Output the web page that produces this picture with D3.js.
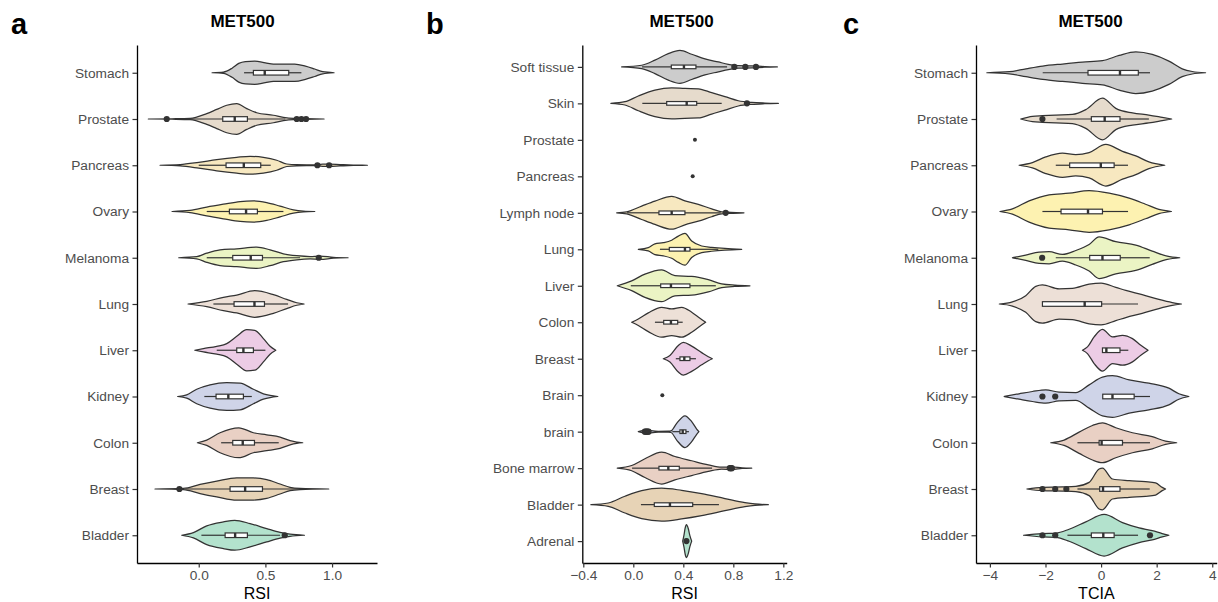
<!DOCTYPE html>
<html>
<head>
<meta charset="utf-8">
<script src="https://cdn.jsdelivr.net/npm/d3@7"></script>
<style>
  body { margin: 0; background: #fff; }
  svg text { font-family: "Liberation Sans", Arial, Helvetica, sans-serif; }
</style>
</head>
<body>
<div id="container"></div>
<script>
/* DATA — panel a (RSI), categories top to bottom */
const catsA = ["Stomach","Prostate","Pancreas","Ovary","Melanoma","Lung","Liver","Kidney","Colon","Breast","Bladder"];
const q1A  = [0.41, 0.18, 0.205, 0.23, 0.255, 0.265, 0.285, 0.13, 0.255, 0.235, 0.198];
const medA = [0.495, 0.27, 0.338, 0.355, 0.39, 0.418, 0.335, 0.222, 0.33, 0.348, 0.273];
const q3A  = [0.675, 0.365, 0.465, 0.44, 0.478, 0.493, 0.41, 0.335, 0.418, 0.478, 0.365];
const loA  = [0.34, -0.06, 0.0, 0.06, 0.06, 0.11, 0.135, 0.042, 0.168, -0.1, 0.02];
const hiA  = [0.77, 0.65, 0.54, 0.635, 0.76, 0.67, 0.5, 0.398, 0.6, 0.8, 0.61];
const outA = [[], [-0.24, 0.735, 0.77, 0.805], [0.89, 0.978], [], [0.9], [], [], [], [], [-0.145], [0.645]];
// violin outlines: [value, relative width]
const densA = [
  [[0.10,0],[0.185,0.03],[0.25,0.22],[0.3,0.45],[0.35,0.54],[0.42,0.56],[0.5,0.48],[0.56,0.42],[0.65,0.42],[0.72,0.42],[0.8,0.32],[0.87,0.18],[0.93,0.05],[1.015,0]],
  [[-0.378,0],[-0.2,0.01],[-0.065,0.03],[0.06,0.26],[0.135,0.46],[0.21,0.66],[0.285,0.74],[0.36,0.5],[0.435,0.3],[0.56,0.18],[0.635,0.08],[0.71,0.03],[0.8,0.02],[0.94,0]],
  [[-0.29,0],[-0.14,0.03],[0,0.14],[0.135,0.27],[0.285,0.38],[0.385,0.43],[0.485,0.38],[0.585,0.24],[0.66,0.06],[0.735,0.025],[0.86,0.02],[0.93,0.05],[0.98,0.05],[1.06,0.03],[1.16,0.01],[1.265,0]],
  [[-0.2,0],[-0.065,0.05],[0.06,0.21],[0.185,0.35],[0.31,0.48],[0.41,0.51],[0.51,0.43],[0.61,0.26],[0.71,0.08],[0.785,0.02],[0.87,0]],
  [[-0.15,0],[-0.015,0.05],[0.06,0.22],[0.16,0.38],[0.285,0.43],[0.435,0.51],[0.535,0.38],[0.635,0.19],[0.735,0.1],[0.835,0.06],[0.91,0.08],[1.01,0.02],[1.12,0]],
  [[-0.08,0],[0.06,0.13],[0.185,0.32],[0.285,0.43],[0.42,0.64],[0.56,0.45],[0.66,0.22],[0.735,0.06],[0.79,0]],
  [[-0.03,0],[0.035,0.08],[0.135,0.19],[0.21,0.32],[0.285,0.67],[0.36,0.99],[0.42,0.96],[0.485,0.56],[0.535,0.19],[0.578,0]],
  [[-0.158,0],[-0.09,0.08],[-0.015,0.35],[0.085,0.56],[0.21,0.67],[0.31,0.64],[0.41,0.35],[0.485,0.13],[0.535,0.05],[0.593,0]],
  [[-0.01,0],[0.06,0.13],[0.16,0.48],[0.3,0.72],[0.41,0.48],[0.51,0.38],[0.61,0.27],[0.685,0.1],[0.735,0.03],[0.78,0]],
  [[-0.328,0],[-0.115,0.03],[0.01,0.22],[0.135,0.38],[0.285,0.54],[0.41,0.53],[0.51,0.45],[0.61,0.24],[0.685,0.08],[0.76,0.03],[0.975,0]],
  [[-0.128,0],[-0.04,0.13],[0.06,0.45],[0.185,0.64],[0.27,0.72],[0.385,0.56],[0.51,0.32],[0.61,0.14],[0.685,0.05],[0.793,0]]
];

/* DATA — panel b (RSI) */
const catsB = ["Soft tissue","Skin","Prostate","Pancreas","Lymph node","Lung","Liver","Colon","Breast","Brain","brain","Bone marrow","Bladder","Adrenal"];
const q1B  = [0.304, 0.267, null, null, 0.205, 0.288, 0.219, 0.243, 0.373, null, 0.373, 0.205, 0.168, 0.418];
const medB = [0.405, 0.427, 0.493, 0.475, 0.307, 0.413, 0.301, 0.301, 0.408, 0.232, 0.395, 0.28, 0.293, 0.425];
const q3B  = [0.501, 0.507, null, null, 0.413, 0.453, 0.453, 0.355, 0.453, null, 0.421, 0.368, 0.475, 0.432];
const loB  = [0.07, 0.072, null, null, -0.05, 0.213, -0.02, 0.173, 0.34, null, 0.312, -0.01, 0.061, 0.41];
const hiB  = [0.75, 0.707, null, null, 0.7, 0.68, 0.66, 0.395, 0.501, null, 0.445, 0.63, 0.685, 0.44];
const outB = [[0.808, 0.896, 0.981], [0.909], [], [], [0.739], [], [], [], [], [], [0.092, 0.1, 0.107, 0.115, 0.122], [0.772, 0.78, 0.788], [], [0.425]];
const densB = [
  [[-0.093,0],[0.067,0.1],[0.173,0.41],[0.28,0.81],[0.373,1.0],[0.467,0.77],[0.573,0.49],[0.68,0.3],[0.76,0.16],[0.84,0.08],[0.947,0.06],[1.053,0.02],[1.152,0]],
  [[-0.179,0],[-0.067,0.1],[0.04,0.45],[0.173,0.81],[0.307,0.95],[0.413,0.91],[0.52,0.89],[0.627,0.65],[0.733,0.41],[0.84,0.16],[0.947,0.06],[1.053,0.02],[1.16,0]],
  null,
  null,
  [[-0.133,0],[-0.053,0.06],[0.067,0.41],[0.173,0.71],[0.307,1.0],[0.413,0.73],[0.52,0.51],[0.627,0.24],[0.707,0.06],[0.78,0.03],[0.885,0]],
  [[0.04,0],[0.12,0.1],[0.173,0.33],[0.24,0.4],[0.307,0.55],[0.36,0.8],[0.413,0.97],[0.467,0.5],[0.547,0.2],[0.627,0.12],[0.733,0.05],[0.867,0]],
  [[-0.128,0],[-0.013,0.3],[0.093,0.71],[0.227,0.97],[0.333,0.61],[0.467,0.57],[0.6,0.37],[0.707,0.12],[0.813,0.04],[0.933,0]],
  [[-0.013,0],[0.04,0.2],[0.12,0.57],[0.227,0.91],[0.307,0.81],[0.387,0.91],[0.467,0.61],[0.533,0.24],[0.579,0]],
  [[0.24,0],[0.293,0.2],[0.36,0.81],[0.4,1.0],[0.467,0.77],[0.547,0.37],[0.6,0.12],[0.632,0]],
  null,
  [[0.04,0],[0.08,0.08],[0.107,0.12],[0.14,0.07],[0.2,0.02],[0.28,0.03],[0.301,0.05],[0.347,0.51],[0.413,0.97],[0.467,0.61],[0.507,0.16],[0.525,0]],
  [[-0.128,0],[-0.013,0.16],[0.093,0.57],[0.227,0.97],[0.333,0.71],[0.467,0.45],[0.6,0.2],[0.707,0.06],[0.787,0.08],[0.87,0.02],[0.947,0]],
  [[-0.339,0],[-0.2,0.1],[-0.067,0.51],[0.067,0.85],[0.227,1.0],[0.387,0.87],[0.547,0.67],[0.733,0.37],[0.893,0.12],[0.973,0.04],[1.08,0]],
  [[0.395,0],[0.405,0.35],[0.415,0.8],[0.425,1.0],[0.44,0.75],[0.452,0.35],[0.467,0]]
];

/* DATA — panel c (TCIA) */
const catsC = ["Stomach","Prostate","Pancreas","Ovary","Melanoma","Lung","Liver","Kidney","Colon","Breast","Bladder"];
const q1C  = [-0.47, -0.35, -1.13, -1.44, -0.41, -2.11, 0.05, 0.06, -0.07, -0.05, -0.35];
const medC = [0.68, 0.13, -0.01, -0.47, 0.05, -0.59, 0.19, 0.41, 0.02, 0.07, 0.08];
const q3C  = [1.34, 0.68, 0.47, 0.05, 0.69, 0.02, 0.68, 1.19, 0.77, 0.68, 0.47];
const loC  = [-2.1, -1.6, -1.63, -2.11, -1.63, -2.11, 0.05, 0.06, -0.85, -0.85, -1.21];
const hiC  = [1.76, 1.72, 0.97, 0.97, 1.75, 1.33, 0.98, 1.76, 1.76, 1.75, 1.33];
const outC = [[], [-2.11], [], [], [-2.12], [], [], [-2.11, -1.65], [], [-2.11, -1.65, -1.25], [-2.11, -1.65, 1.76]];
const densC = [
  [[-4.11,0],[-3.3,0.05],[-2.7,0.19],[-2.1,0.32],[-1.39,0.42],[-0.67,0.51],[0.05,0.58],[0.65,0.83],[1.25,1.0],[1.84,0.88],[2.44,0.56],[2.92,0.19],[3.28,0.06],[3.76,0]],
  [[-2.89,0],[-2.47,0.13],[-2.11,0.16],[-1.63,0.19],[-1.03,0.22],[-0.55,0.45],[0.05,1.0],[0.53,0.51],[1.13,0.29],[1.72,0.19],[2.2,0.08],[2.54,0]],
  [[-2.95,0],[-2.47,0.13],[-1.99,0.4],[-1.39,0.58],[-0.91,0.51],[-0.43,0.61],[0.17,1.0],[0.77,0.67],[1.25,0.45],[1.72,0.16],[2.29,0]],
  [[-3.64,0],[-3.19,0.13],[-2.59,0.51],[-1.87,0.8],[-1.15,0.88],[-0.43,1.0],[0.29,0.88],[1.01,0.64],[1.6,0.35],[2.08,0.1],[2.53,0]],
  [[-3.19,0],[-2.71,0.13],[-2.23,0.27],[-1.87,0.29],[-1.39,0.16],[-0.91,0.35],[-0.43,0.64],[-0.07,1.0],[0.53,0.77],[1.25,0.61],[1.84,0.32],[2.38,0.08],[2.83,0]],
  [[-3.66,0],[-3.19,0.1],[-2.71,0.4],[-2.35,0.85],[-2.11,0.92],[-1.51,0.73],[-1.03,0.75],[-0.43,0.95],[0,1.0],[0.53,0.8],[0.89,0.65],[1.48,0.45],[2.08,0.22],[2.56,0.07],[2.89,0]],
  [[-0.67,0],[-0.49,0.16],[-0.25,0.64],[0.05,1.0],[0.41,0.64],[0.77,0.72],[1.13,0.56],[1.43,0.24],[1.69,0]],
  [[-3.49,0],[-2.95,0.13],[-2.47,0.24],[-1.99,0.32],[-1.51,0.21],[-0.91,0.19],[-0.43,0.56],[0.05,0.93],[0.41,1.0],[1.01,0.8],[1.72,0.64],[2.44,0.4],[2.8,0.13],[3.16,0]],
  [[-1.81,0],[-1.33,0.13],[-0.79,0.51],[-0.31,0.83],[0.05,0.96],[0.53,0.72],[1.13,0.48],[1.84,0.29],[2.32,0.08],[2.72,0]],
  [[-2.67,0],[-2.11,0.08],[-1.39,0.1],[-0.91,0.13],[-0.43,0.32],[-0.07,0.96],[0.05,1.0],[0.41,0.48],[1.01,0.4],[1.6,0.35],[1.96,0.29],[2.2,0.08],[2.32,0]],
  [[-2.79,0],[-2.11,0.08],[-1.63,0.1],[-1.15,0.29],[-0.55,0.64],[0.11,1.0],[0.77,0.61],[1.37,0.35],[1.84,0.22],[2.2,0.08],[2.44,0]]
];

const ticksA = [0, 0.5, 1.0];
const ticksB = [-0.4, 0, 0.4, 0.8, 1.2];
const ticksC = [-4, -2, 0, 2, 4];

/* LAYOUT */
const width = 1218, height = 602;
const plotTop = 45, plotBottom = 563;
const ink = "#333333";

const svg = d3.select("#container").append("svg")
  .attr("width", width)
  .attr("height", height);

// pastel palette stretched over the groups that actually get a violin (bottom group = first colour)
function paletteFor(n) {
  const interp = d3.piecewise(d3.interpolateRgb, d3.schemePastel2);
  return i => interp(i / (n - 1));
}

const panels = [
  { letter: "a", letterX: 11, titleX: 242.5, x0: 137, x1: 377, domain: [-0.463, 1.337], ticks: ticksA, fmt: d3.format(".1f"), xlab: "RSI",
    cats: catsA, q1: q1A, med: medA, q3: q3A, lo: loA, hi: hiA, out: outA, dens: densA },
  { letter: "b", letterX: 426, titleX: 681.5, x0: 582.3, x1: 786.7, domain: [-0.408, 1.227], ticks: ticksB, fmt: d3.format(".1f"), xlab: "RSI",
    cats: catsB, q1: q1B, med: medB, q3: q3B, lo: loB, hi: hiB, out: outB, dens: densB },
  { letter: "c", letterX: 843, titleX: 1090.5, x0: 976, x1: 1216.7, domain: [-4.5, 4.16], ticks: ticksC, fmt: d3.format("d"), xlab: "TCIA",
    cats: catsC, q1: q1C, med: medC, q3: q3C, lo: loC, hi: hiC, out: outC, dens: densC }
];

panels.forEach(drawPanel);

function drawPanel(p) {
  const g = svg.append("g");

  const xScale = d3.scaleLinear().domain(p.domain).range([p.x0, p.x1]);
  const yScale = d3.scalePoint().domain(p.cats).range([plotTop, plotBottom]).padding(0.6);
  const step = yScale.step();
  const halfV = step * 0.45;   // widest violin = 0.9 of a row
  const halfB = step * 0.05;   // box = 0.1 of a row

  const rows = p.cats.map((c, i) => ({
    cat: c, i,
    q1: p.q1[i], med: p.med[i], q3: p.q3[i], lo: p.lo[i], hi: p.hi[i],
    out: p.out[i], dens: p.dens[i]
  }));

  // colours only go to groups with a violin, counted from the bottom
  const violins = rows.filter(r => r.dens).reverse();
  const color = paletteFor(violins.length);
  violins.forEach((r, k) => { r.col = color(k); });

  // violins
  const area = d3.area().curve(d3.curveMonotoneX);
  violins.forEach(r => {
    const yc = yScale(r.cat);
    area.x(d => xScale(d[0]))
      .y0(d => yc - d[1] * halfV)
      .y1(d => yc + d[1] * halfV);
    g.append("path")
      .attr("d", area(r.dens))
      .attr("fill", r.col)
      .attr("stroke", ink)
      .attr("stroke-width", 1.25)
      .attr("stroke-linejoin", "round");
  });

  // whiskers
  const boxed = rows.filter(r => r.q1 != null);
  g.selectAll("line.whisk-lo").data(boxed).join("line")
    .attr("class", "whisk-lo")
    .attr("x1", r => xScale(r.lo)).attr("x2", r => xScale(r.q1))
    .attr("y1", r => yScale(r.cat)).attr("y2", r => yScale(r.cat))
    .attr("stroke", ink).attr("stroke-width", 1.2);
  g.selectAll("line.whisk-hi").data(boxed).join("line")
    .attr("class", "whisk-hi")
    .attr("x1", r => xScale(r.q3)).attr("x2", r => xScale(r.hi))
    .attr("y1", r => yScale(r.cat)).attr("y2", r => yScale(r.cat))
    .attr("stroke", ink).attr("stroke-width", 1.2);

  // boxes
  g.selectAll("rect.box").data(boxed).join("rect")
    .attr("class", "box")
    .attr("x", r => xScale(r.q1))
    .attr("width", r => Math.max(0.5, xScale(r.q3) - xScale(r.q1)))
    .attr("y", r => yScale(r.cat) - halfB)
    .attr("height", halfB * 2)
    .attr("fill", "#fff")
    .attr("stroke", ink)
    .attr("stroke-width", 1.2);

  // medians
  g.selectAll("line.med").data(boxed).join("line")
    .attr("class", "med")
    .attr("x1", r => xScale(r.med)).attr("x2", r => xScale(r.med))
    .attr("y1", r => yScale(r.cat) - halfB).attr("y2", r => yScale(r.cat) + halfB)
    .attr("stroke", ink).attr("stroke-width", 2.4);

  // outliers
  const pts = rows.flatMap(r => r.out.map(v => ({ cat: r.cat, v })));
  g.selectAll("circle.out").data(pts).join("circle")
    .attr("class", "out")
    .attr("cx", d => xScale(d.v)).attr("cy", d => yScale(d.cat))
    .attr("r", 3.1).attr("fill", ink);

  // single-sample groups
  const singles = rows.filter(r => r.q1 == null);
  g.selectAll("circle.single").data(singles).join("circle")
    .attr("class", "single")
    .attr("cx", r => xScale(r.med)).attr("cy", r => yScale(r.cat))
    .attr("r", 2).attr("fill", ink);

  // axes
  const yAxis = d3.axisLeft(yScale).tickSize(4.5).tickSizeOuter(0).tickPadding(3.5);
  const xAxis = d3.axisBottom(xScale).tickValues(p.ticks).tickFormat(p.fmt)
    .tickSize(4.5).tickSizeOuter(0).tickPadding(3);

  const ya = g.append("g").attr("transform", `translate(${p.x0},0)`).call(yAxis);
  const xa = g.append("g").attr("transform", `translate(0,${plotBottom})`).call(xAxis);
  [ya, xa].forEach(a => {
    a.select(".domain").attr("stroke", "#000").attr("stroke-width", 1.3);
    a.selectAll(".tick line").attr("stroke", ink).attr("stroke-width", 1.2);
    a.selectAll(".tick text").attr("fill", "#4d4d4d").style("font-size", "13.7px")
      .style("font-family", '"Liberation Sans", Arial, sans-serif');
  });

  // titles
  g.append("text")
    .attr("x", p.titleX).attr("y", 27.3)
    .attr("text-anchor", "middle")
    .style("font-size", "17px").style("font-weight", "bold")
    .text("MET500");
  g.append("text")
    .attr("x", (p.x0 + p.x1) / 2).attr("y", 598.5)
    .attr("text-anchor", "middle")
    .style("font-size", "16px")
    .text(p.xlab);
  g.append("text")
    .attr("x", p.letterX).attr("y", 34.3)
    .style("font-size", "29px").style("font-weight", "bold")
    .text(p.letter);
}
</script>
</body>
</html>
